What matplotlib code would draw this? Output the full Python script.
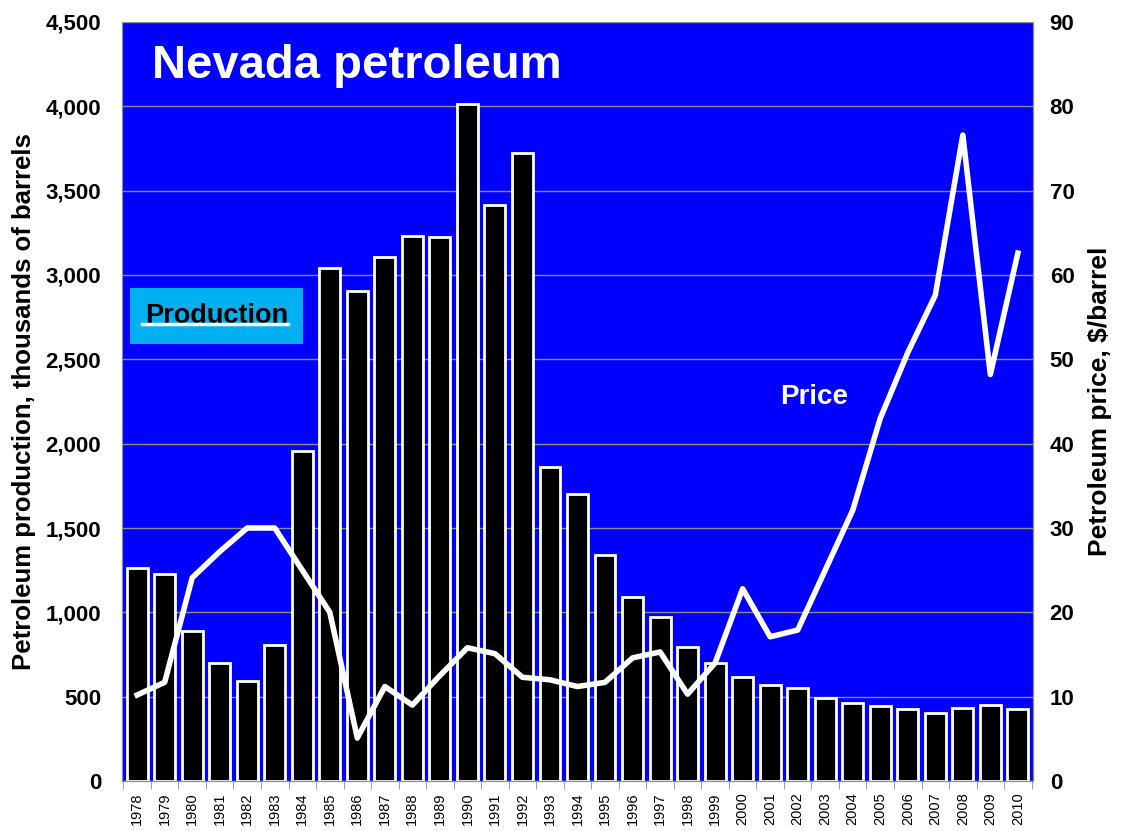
import matplotlib
matplotlib.use("Agg")
import matplotlib.pyplot as plt
import numpy as np

plt.rcParams['font.family'] = ['Liberation Sans', 'DejaVu Sans']

# 數據
years = list(range(1978, 2011))
production = [1265, 1227, 889, 700, 593, 806, 1957, 3042, 2905, 3107, 3231, 3225,
              4014, 3415, 3723, 1862, 1702, 1340, 1091, 972, 794, 700, 617, 569,
              551, 492, 462, 445, 427, 403, 435, 450, 427]
price = [10.2, 11.7, 24.1, 27.2, 30.0, 30.0, 25.0, 20.0, 5.1, 11.2, 9.0, 12.5,
         15.8, 15.1, 12.3, 12.0, 11.2, 11.7, 14.6, 15.3, 10.3, 14.0, 22.8, 17.1,
         17.9, 25.0, 32.1, 43.0, 50.8, 57.6, 76.6, 48.2, 62.6]

fig = plt.figure(figsize=(11.22, 8.31), dpi=100)
ax = fig.add_axes([122/1122, 1 - 781/831, (1033-122)/1122, (781-22)/831])
ax.set_facecolor('#0000FF')

x = np.arange(len(years))
ax.bar(x, production, width=0.76, color='black', edgecolor='white', linewidth=2, zorder=3)
ax.set_xlim(-0.55, len(years) - 0.45)
ax.set_ylim(0, 4500)
ax.set_yticks(np.arange(0, 4501, 500))
ax.set_yticklabels([f'{v:,}' for v in range(0, 4501, 500)], fontsize=16, fontweight='bold')
ax.grid(True, axis='y', color='#8C8C8C', linewidth=1, zorder=1)
ax.set_xticks(x)
ax.set_xticklabels([str(y) for y in years], rotation=90, fontsize=10.5)
ax.set_xticks(np.arange(-0.5, len(years), 1), minor=True)
ax.tick_params(axis='x', which='major', length=0, pad=8)
ax.tick_params(axis='x', which='minor', length=6, color='#8C8C8C')
ax.tick_params(axis='y', length=0, pad=15)
ax.spines['top'].set_visible(False)
for s in ['left', 'right', 'bottom']:
    ax.spines[s].set_color('#8C8C8C')
ax.set_ylabel('Petroleum production, thousands of barrels', fontsize=18.5,
              fontweight='bold', labelpad=7)

ax2 = ax.twinx()
ax2.plot(x, price, color='white', linewidth=4, zorder=5)
ax2.set_ylim(0, 90)
ax2.set_yticks(np.arange(0, 91, 10))
ax2.set_yticklabels([str(v) for v in range(0, 91, 10)], fontsize=16, fontweight='bold')
ax2.tick_params(axis='y', length=0, pad=12)
ax2.spines['top'].set_visible(False)
for s in ['left', 'right', 'bottom']:
    ax2.spines[s].set_color('#8C8C8C')
ax2.set_ylabel('Petroleum price, $/barrel', fontsize=19, fontweight='bold', labelpad=10)

ax2.text(0.033, 0.971, 'Nevada petroleum', transform=ax2.transAxes, fontsize=34,
         fontweight='bold', color='white', va='top', ha='left')
ax2.text(0.76, 0.506, 'Price', transform=ax2.transAxes, fontsize=20,
         fontweight='bold', color='white', va='center', ha='center')

# Production 標籤
ax2.text(0.104, 0.613, 'Production', transform=ax2.transAxes, fontsize=19.5,
         fontweight='bold', color='black', va='center', ha='center', zorder=7,
         bbox=dict(boxstyle='square,pad=0.55', facecolor='#00B0F0', edgecolor='none'))
ax2.plot([0.022, 0.182], [0.602, 0.602], transform=ax2.transAxes, color='white',
         linewidth=2.5, zorder=8)

fig.savefig('out.png', dpi=100)
